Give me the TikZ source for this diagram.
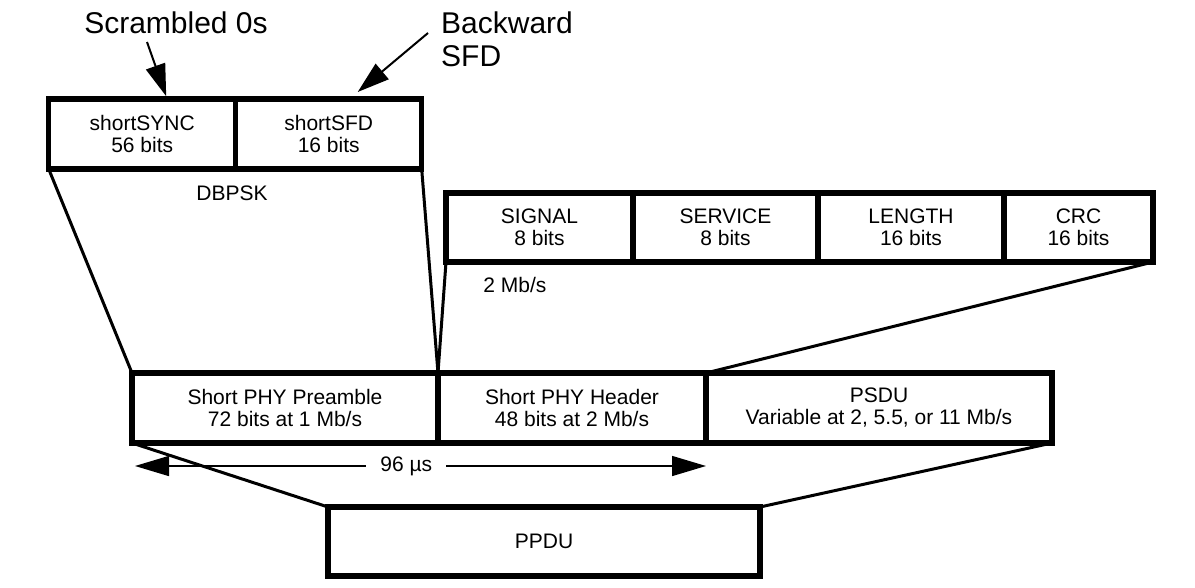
\documentclass[tikz,border=0pt]{standalone}
\usepackage{fontspec}
\setmainfont{Liberation Sans}
\usetikzlibrary{positioning,arrows.meta}

\begin{document}
\begin{tikzpicture}[x=1pt,y=-1pt,
	every node/.style={font=\fontsize{21}{22}\selectfont,inner sep=0pt},
	field/.style={draw,line width=5.5pt,minimum height=70pt,outer sep=0pt,align=center},
	biglabel/.style={font=\fontsize{30}{33}\selectfont,align=left},
	link/.style={line width=3pt},
	callout/.style={line width=2pt,-{Triangle[length=32pt,width=20pt]}}]
	\useasboundingbox (0,0) rectangle (1195,587);
	
	% preamble fields
	\node[field,minimum width=187pt] (sync) at (142.2,134) {shortSYNC\\56 bits};
	\node[field,minimum width=186pt,right=0pt of sync] (sfd) {shortSFD\\16 bits};
	\node (dbpsk) at (232,193) {DBPSK};
	
	% header fields
	\node[field,minimum width=187pt,minimum height=69pt] (signal) at (539.5,227.5) {SIGNAL\\8 bits};
	\node[field,minimum width=185pt,minimum height=69pt,right=0pt of signal] (service) {SERVICE\\8 bits};
	\node[field,minimum width=186pt,minimum height=69pt,right=0pt of service] (length) {LENGTH\\16 bits};
	\node[field,minimum width=149pt,minimum height=69pt,right=0pt of length] (crc) {CRC\\16 bits};
	\node (rate) at (515,285) {2 Mb/s};
	
	% PHY frame
	\node[field,minimum width=306pt] (pre) at (285,408) {Short PHY Preamble\\72 bits at 1 Mb/s};
	\node[field,minimum width=268pt,right=0pt of pre] (hdr) {Short PHY Header\\48 bits at 2 Mb/s};
	\node[field,minimum width=346pt,right=0pt of hdr] (psdu) {PSDU\\Variable at 2, 5.5, or 11 Mb/s};
	\node[field,minimum width=432pt,minimum height=69pt] (ppdu) at (544,541.5) {PPDU};
	
	% callouts
	\node[biglabel] (scr) at (176,23) {Scrambled 0s};
	\node[biglabel,anchor=west] (bsfd) at (441,39.5) {Backward\\SFD};
	\coordinate (scrfoot) at (147,42);
	\coordinate (bsfdfoot) at (428,33);
	\draw[callout] (scrfoot) -- ([xshift=24pt,yshift=2.75pt]sync.north);
	\draw[callout] (bsfdfoot) -- ([xshift=29pt,yshift=7pt]sfd.north);
	
	% expansion lines
	\draw[link] (sync.south west) -- (pre.north west);
	\draw[link] (sfd.south east) -- (pre.north east);
	\draw[link] (signal.south west) -- (pre.north east);
	\draw[link] (crc.south east) -- (psdu.north west);
	\draw[link] (pre.south west) -- (ppdu.north west);
	\draw[link] (psdu.south east) -- (ppdu.north east);
	
	% duration
	\coordinate (durL) at ([xshift=3pt,yshift=-23pt]pre.south west);
	\coordinate (durR) at ([yshift=-23pt]hdr.south east);
	\draw[line width=1.5pt,{Triangle[length=34pt,width=20pt]}-{Triangle[length=34pt,width=20pt]}]
	(durL) -- node[pos=0.475,fill=white,inner xsep=14pt,inner ysep=2pt] {96 µs} (durR);
\end{tikzpicture}
\end{document}
